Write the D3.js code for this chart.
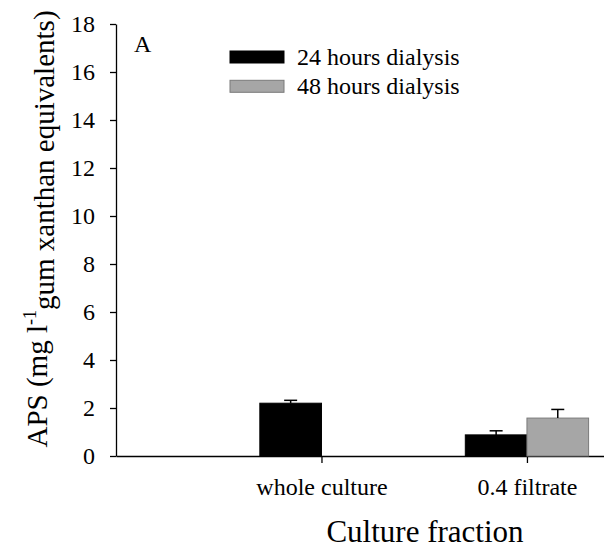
<!DOCTYPE html>
<html lang="en">
<head>
    <meta charset="utf-8">
    <title>APS culture fraction</title>
    <script src="https://d3js.org/d3.v7.min.js"></script>
    <style>
        body { margin: 0; background: #fff; }
    </style>
</head>
<body onload="main()">
    <svg width="604" height="548" id="svg1"></svg>
    <script>
        // data
        var categories = ["whole culture", "0.4 filtrate"];
        var series = ["24 hours dialysis", "48 hours dialysis"];
        var mean24 = [2.20, 0.88];
        var err24 = [0.12, 0.17];
        var mean48 = [null, 1.58];
        var err48 = [null, 0.36];
        var yTicks = [0, 2, 4, 6, 8, 10, 12, 14, 16, 18];
        var colors = ["#000000", "#a6a6a6"];
        var strokes = ["#000000", "#7a7a7a"];

        var serif = "'Liberation Serif', 'Times New Roman', serif";

        function main() {
            var svg1 = d3.select("#svg1")
                .style("font-family", serif);

            var xScale = d3.scaleLinear().domain([0, 2.375]).range([116, 604]),
                yScale = d3.scaleLinear().domain([0, 18]).range([456, 24]);
            var barW = 0.3;

            // y axis
            var yAxis = svg1.append("g")
                .attr("transform", "translate(" + xScale(0) + ",0)")
                .call(d3.axisLeft(yScale).tickValues(yTicks).tickSizeInner(6).tickSizeOuter(0).tickPadding(15));
            yAxis.attr("font-family", null).attr("font-size", null);
            yAxis.selectAll("text").style("font-family", serif).style("font-size", "24px");

            // x axis
            var xAxis = svg1.append("g")
                .attr("transform", "translate(0," + yScale(0) + ")")
                .call(d3.axisBottom(xScale).tickValues([1, 2])
                    .tickFormat(function (d) { return categories[d - 1]; })
                    .tickSizeInner(7).tickSizeOuter(0).tickPadding(15));
            xAxis.attr("font-family", null).attr("font-size", null);
            xAxis.selectAll("text").style("font-family", serif).style("font-size", "24px");

            svg1.selectAll(".domain, .tick line").attr("stroke", "#000").attr("stroke-width", 1.3);

            // bars
            var rows = [];
            categories.forEach(function (c, i) {
                rows.push({ cat: i + 1, s: 0, v: mean24[i], e: err24[i] });
                if (mean48[i] != null) rows.push({ cat: i + 1, s: 1, v: mean48[i], e: err48[i] });
            });

            var bars = svg1.append("g");
            bars.selectAll("rect")
                .data(rows)
                .enter().append("rect")
                .attr("x", function (d) { return xScale(d.cat - barW + d.s * barW); })
                .attr("width", function (d) { return xScale(barW) - xScale(0); })
                .attr("y", function (d) { return yScale(d.v); })
                .attr("height", function (d) { return yScale(0) - yScale(d.v); })
                .attr("fill", function (d) { return colors[d.s]; })
                .attr("stroke", function (d) { return strokes[d.s]; })
                .attr("stroke-width", 1);

            // error bars (upper only)
            var eb = svg1.append("g").attr("stroke", "#000").attr("stroke-width", 1.5);
            rows.forEach(function (d) {
                var cx = xScale(d.cat - barW / 2 + d.s * barW);
                eb.append("line")
                    .attr("x1", cx).attr("x2", cx)
                    .attr("y1", yScale(d.v)).attr("y2", yScale(d.v + d.e));
                eb.append("line")
                    .attr("x1", cx - 6.5).attr("x2", cx + 6.5)
                    .attr("y1", yScale(d.v + d.e)).attr("y2", yScale(d.v + d.e));
            });

            // legend
            var legend = svg1.append("g");
            series.forEach(function (s, i) {
                legend.append("rect")
                    .attr("x", 230).attr("y", 51 + i * 29.3)
                    .attr("width", 54).attr("height", 12)
                    .attr("fill", colors[i]).attr("stroke", strokes[i]);
                legend.append("text")
                    .attr("x", 297).attr("y", 65 + i * 29.3)
                    .style("font-size", "24px")
                    .text(s);
            });

            // panel letter
            svg1.append("text")
                .attr("x", 134).attr("y", 52)
                .style("font-size", "24px")
                .text("A");

            // axis titles
            svg1.append("text")
                .attr("x", 425).attr("y", 542)
                .attr("text-anchor", "middle")
                .style("font-size", "31px")
                .text("Culture fraction");

            var yt = svg1.append("text")
                .attr("transform", "translate(47,229) rotate(-90)")
                .attr("text-anchor", "middle")
                .style("font-size", "29px");
            yt.append("tspan").text("APS (mg l");
            yt.append("tspan").attr("dy", "-0.6em").style("font-size", "18px").text("-1");
            yt.append("tspan").attr("dy", "0.6em").text("gum xanthan equivalents)");
        }
    </script>
</body>
</html>
